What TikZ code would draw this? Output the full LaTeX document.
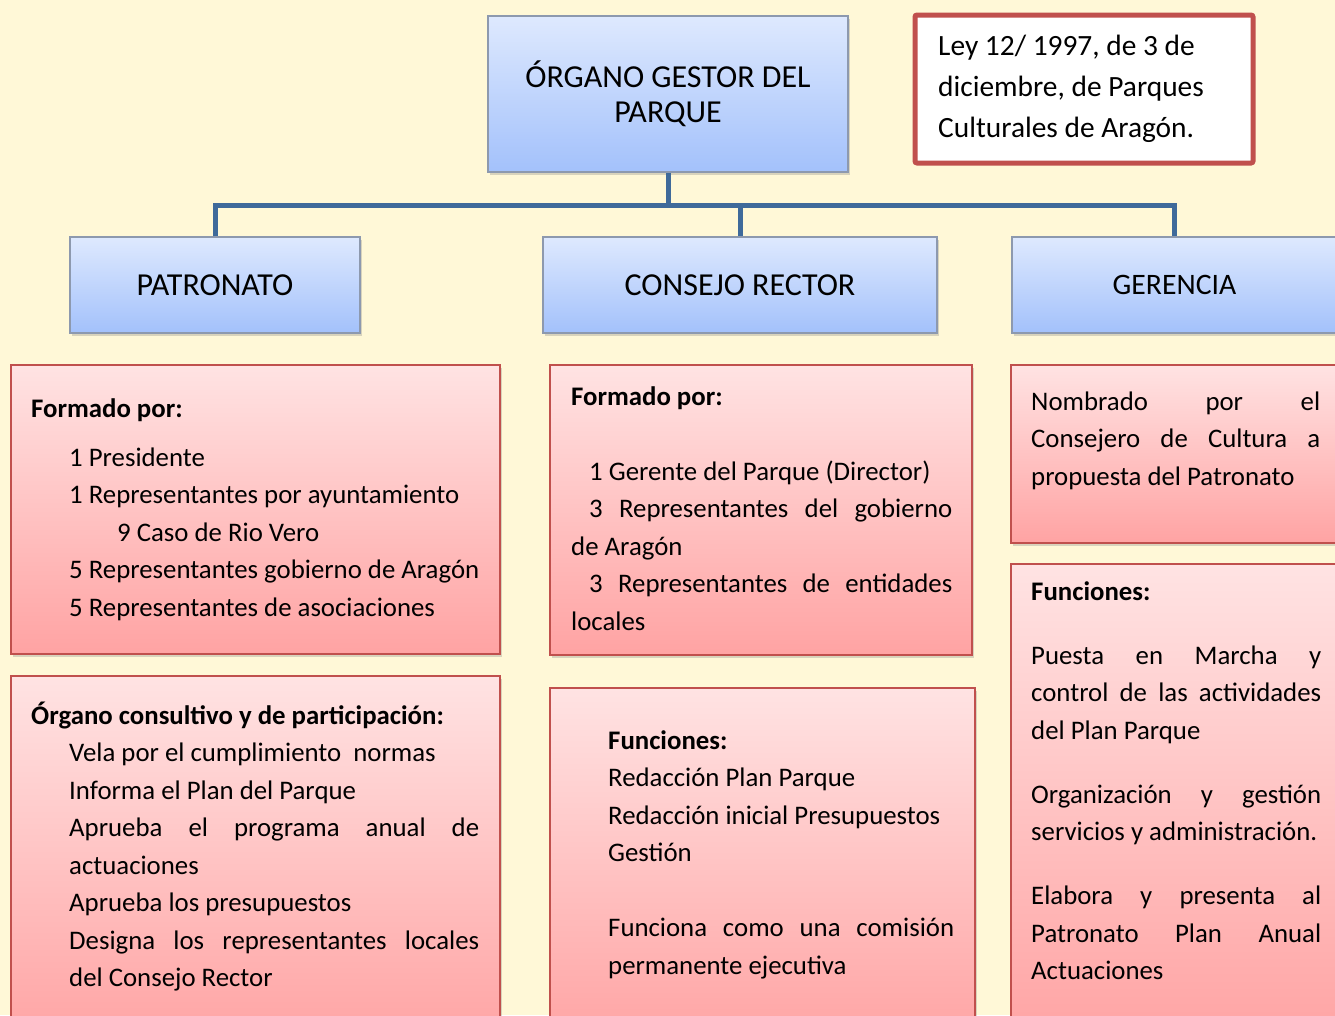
\documentclass[tikz,border=0pt]{standalone}
\usepackage{fontspec}
\setmainfont{Carlito}
\usepackage{tikz}
\usetikzlibrary{fit, shadows, positioning}
\definecolor{pcream}{HTML}{FFF8D7}
\definecolor{pbluetop}{HTML}{DEE9FE}
\definecolor{pbluebot}{HTML}{A3C1FB}
\definecolor{pblueedge}{HTML}{8D99AE}
\definecolor{ppinktop}{HTML}{FFE3E3}
\definecolor{ppinkbot}{HTML}{FFA3A3}
\definecolor{predge}{HTML}{C0504D}
\definecolor{plink}{HTML}{3F6A9A}
\newcommand{\jl}[2]{\makebox[#1pt][s]{#2}}
\newcommand{\fl}{\rule{0pt}{24pt}}
\tikzset{
  shad/.style={drop shadow={shadow xshift=2pt, shadow yshift=-3pt, opacity=0.3}},
  bbox/.style={draw=pblueedge, line width=1.5pt, top color=pbluetop, bottom color=pbluebot,
               inner sep=0pt, shad},
  btxt/.style={align=center, font=\fontsize{32}{35}\selectfont},
  kbox/.style={draw=predge, line width=1.5pt, top color=ppinktop, bottom color=ppinkbot,
               inner sep=0pt, shad},
  lawbox/.style={draw=predge, line width=5pt, fill=white, rounded corners=2pt, inner sep=0pt},
  txt/.style={anchor=north west, inner sep=0pt, align=left, font=\fontsize{26.8}{37.5}\selectfont},
  link/.style={plink, line width=5pt},
}
\begin{document}
\begin{tikzpicture}[x=1pt, y=-1pt]
  \path[use as bounding box] (0,0) rectangle (1335,1015);
  \clip (0,0) rectangle (1335,1015);
  \fill[pcream] (0,0) rectangle (1335,1015);
  % top level
  \node[bbox, fit={(488,16) (848,172)}] (gestor) {};
  \node[btxt] (gestort) at (gestor.center) {ÓRGANO GESTOR DEL\\PARQUE};
  \node[lawbox, fit={(915,15) (1253,163)}] (ley) {};
  \node[txt, font=\fontsize{29.4}{41}\selectfont] (leyt) at (938,31) {\fl Ley 12/ 1997, de 3 de\\diciembre, de Parques\\Culturales de Aragón.};
  % second level
  \node[bbox, fit={(70,237) (360,333)}] (patronato) {};
  \node[bbox, fit={(543,237) (937,333)}] (consejo) {};
  \node[bbox, fit={(1012,237) (1337,333)}] (gerencia) {};
  \node[btxt] (patronatot) at (patronato.center) {PATRONATO};
  \node[btxt] (consejot) at (consejo.center) {CONSEJO RECTOR};
  \node[btxt, font=\fontsize{29.7}{35}\selectfont] (gerenciat) at (gerencia.center) {GERENCIA};
  % connectors
  \coordinate (bus) at (668,205);
  \draw[link] (gestor.south) -- (bus);
  \draw[link] (patronato.north) |- (bus) -| (gerencia.north);
  \draw[link] (bus) -| (consejo.north);
  % patronato
  \node[kbox, fit={(11,365) (500,654)}] (patF) {};
  \node[txt] (patFt) at (31,393) {\fl\textbf{Formado por:}\\[11.5pt]
    \hspace*{38pt}1 Presidente\\
    \hspace*{38pt}1 Representantes por ayuntamiento\\
    \hspace*{86pt}9 Caso de Rio Vero\\
    \hspace*{38pt}5 Representantes gobierno de Aragón\\
    \hspace*{38pt}5 Representantes de asociaciones};
  \node[kbox, fit={(11,676) (500,1045)}] (patO) {};
  \node[txt] (patOt) at (31,700) {\fl\textbf{Órgano consultivo y de participación:}\\
    \hspace*{38pt}Vela por el cumplimiento\ \ normas\\
    \hspace*{38pt}Informa el Plan del Parque\\
    \hspace*{38pt}\jl{410}{Aprueba el programa anual de}\\
    \hspace*{38pt}actuaciones\\
    \hspace*{38pt}Aprueba los presupuestos\\
    \hspace*{38pt}\jl{410}{Designa los representantes locales}\\
    \hspace*{38pt}del Consejo Rector};
  % consejo rector
  \node[kbox, fit={(550,365) (972,655)}] (conF) {};
  \node[txt] (conFt) at (571,381) {\fl\textbf{Formado por:}\\[37.5pt]
    \hspace*{18pt}1 Gerente del Parque (Director)\\
    \hspace*{18pt}\jl{363}{3 Representantes del gobierno}\\
    de Aragón\\
    \hspace*{18pt}\jl{363}{3 Representantes de entidades}\\
    locales};
  \node[kbox, fit={(550,688) (975,1045)}] (conN) {};
  \node[txt] (conNt) at (608,725) {\fl\textbf{Funciones:}\\
    Redacción Plan Parque\\
    Redacción inicial Presupuestos\\
    Gestión\\[37.5pt]
    \jl{346}{Funciona como una comisión}\\
    permanente ejecutiva};
  % gerencia
  \node[kbox, fit={(1011,365) (1340,543)}] (gerN) {};
  \node[txt] (gerNt) at (1031,386) {\fl\jl{289}{Nombrado por el}\\
    \jl{289}{Consejero de Cultura a}\\
    propuesta del Patronato};
  \node[kbox, fit={(1011,564) (1340,1045)}] (gerF) {};
  \node[txt] (gerFt) at (1031,576) {\fl\textbf{Funciones:}\\[26.5pt]
    \jl{290}{Puesta en Marcha y}\\
    \jl{290}{control de las actividades}\\
    del Plan Parque\\[26.5pt]
    \jl{290}{Organización y gestión}\\
    servicios y administración.\\[26.5pt]
    \jl{290}{Elabora y presenta al}\\
    \jl{290}{Patronato Plan Anual}\\
    Actuaciones};
\end{tikzpicture}
\end{document}
